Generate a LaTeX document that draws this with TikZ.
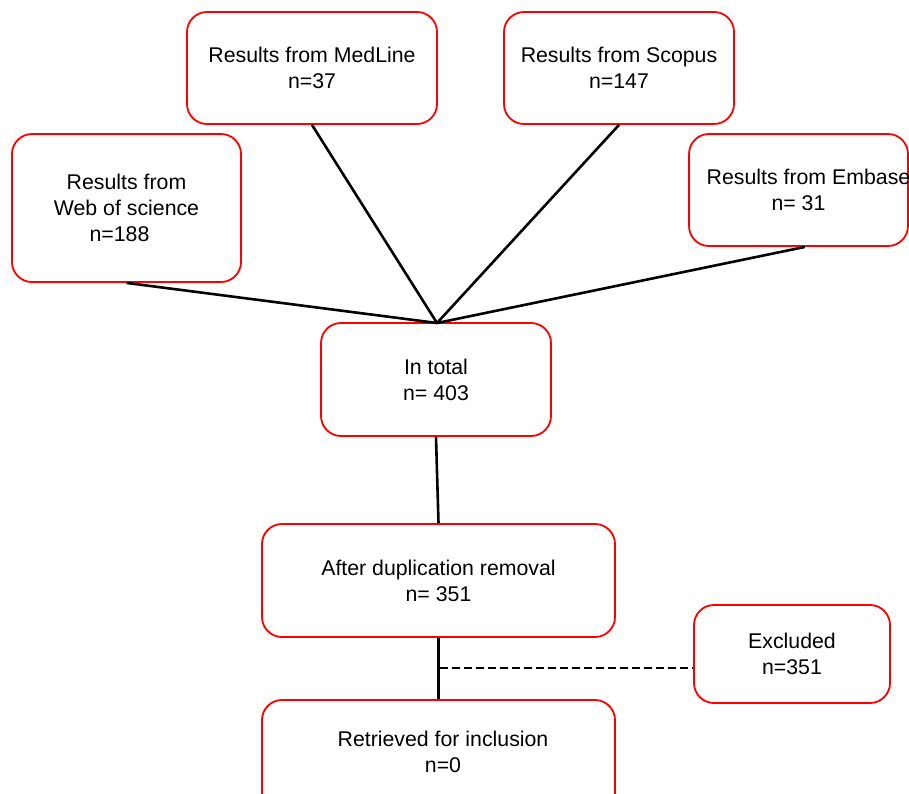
\documentclass[tikz,border=0pt]{standalone}
\usepackage{fontspec}
\setmainfont{Liberation Sans}
\begin{document}
\begin{tikzpicture}[x=1pt,y=-1pt,
  box/.style={draw=red,line width=1.8pt,rounded corners=20pt,fill=white,align=center,
    inner sep=0pt,font=\fontsize{21.3}{26}\selectfont},
  link/.style={draw=black,line width=2.6pt},
  dlink/.style={draw=black,line width=2.2pt,dash pattern=on 8pt off 4pt}]
\clip (0,0) rectangle (909,793);
\fill[white] (0,0) rectangle (909,793);
\node[box,minimum width=250,minimum height=112] (med) at (312,68) {Results from MedLine\\n=37};
\node[box,minimum width=230,minimum height=112] (sco) at (619,68) {Results from Scopus\\n=147};
\node[box,minimum width=229,minimum height=148] (wos) at (126.5,208) {Results from\\Web of science\\n=188\hspace*{14pt}};
\node[box,minimum width=219,minimum height=112] (emb) at (798.5,190) {\makebox[0pt]{\hspace{20pt}Results from Embase}\\n= 31};
\node[box,minimum width=230,minimum height=113] (tot) at (436,379.5) {In total\\n= 403};
\node[box,minimum width=353,minimum height=113] (dup) at (438.5,580.5) {After duplication removal\\n= 351};
\node[box,minimum width=196,minimum height=98] (exc) at (792,654) {Excluded\\n=351};
\node[box,minimum width=353,minimum height=140] (ret) at (438.5,770) {};
\node[font=\fontsize{21.3}{26}\selectfont,align=center] (rett) at (443,752) {Retrieved for inclusion\\n=0};
\coordinate (hub) at (437,323);
\draw[link] (wos.south) -- (hub);
\draw[link] (med.south) -- (hub);
\draw[link] (sco.south) -- (hub);
\draw[link] ([xshift=6.5]emb.south) -- (hub);
\draw[link] (tot.south) -- (dup.north);
\draw[link] (dup.south) -- (ret.north);
\coordinate (j) at (440,668);
\draw[dlink] (j) -- (j -| exc.west);
\end{tikzpicture}
\end{document}
